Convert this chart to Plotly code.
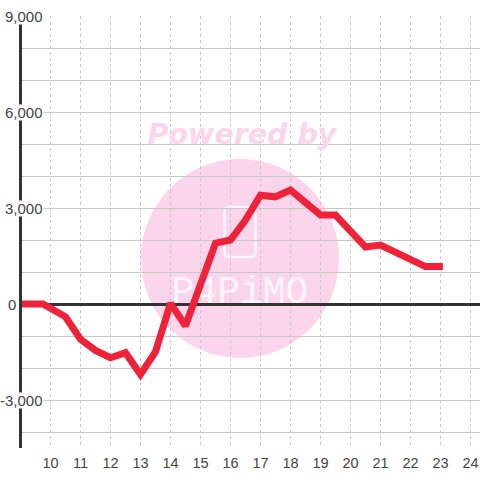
import plotly.graph_objects as go

hours = [8.9, 9.75, 10.5, 11, 11.5, 12, 12.5, 13, 13.5, 14, 14.5, 15, 15.5, 16, 16.5, 17,
         17.5, 18, 18.5, 19, 19.5, 20, 20.5, 21, 21.5, 22, 22.5, 23.08]
values = [0, 0, -400, -1100, -1450, -1680, -1520, -2200, -1490, 20, -680, 650, 1900, 2000, 2620, 3400,
          3350, 3560, 3200, 2780, 2780, 2300, 1780, 1840, 1620, 1370, 1170, 1170]
x_ticks = list(range(10, 25))
y_ticks = [9000, 6000, 3000, 0, -3000]
y_labels = ["9,000", "6,000", "3,000", "0", "-3,000"]

L, R, T, B = 22, 0, 16, 32
W = H = 480
PW, PH = W - L - R, H - T - B
XMIN, XMAX = 9.05, 9.05 + PW / 30
YMIN, YMAX = -4500, 9000
PINK = "#fbd5ec"
GRID = "#c8c8c8"
INK = "#444444"
LOGO = "#fff4fb"


def px(x):
    return (x - L) / PW


def py(y):
    return 1 - (y - T) / PH


def dx(x):
    return XMIN + (x - L) / 30


def dy(y):
    return YMAX - (y - T) / 32 * 1000


def rounded(x0, y0, x1, y1, r):
    pts = [("M", x0 + r, y0), ("L", x1 - r, y0), ("Q", x1, y0, x1, y0 + r), ("L", x1, y1 - r),
           ("Q", x1, y1, x1 - r, y1), ("L", x0 + r, y1), ("Q", x0, y1, x0, y1 - r), ("L", x0, y0 + r),
           ("Q", x0, y0, x0 + r, y0)]
    out = []
    for p in pts:
        coords = p[1:]
        parts = [f"{px(coords[i]):.5f},{py(coords[i + 1]):.5f}" for i in range(0, len(coords), 2)]
        out.append(p[0] + " ".join(parts))
    return " ".join(out) + " Z"


fig = go.Figure()
fig.add_trace(go.Scatter(x=[dx(242)], y=[dy(137)], mode="text", text=["Powered by"],
                         textfont=dict(family="DejaVu Sans", size=28.5, color=PINK, weight="bold", style="italic"),
                         hoverinfo="skip", showlegend=False, cliponaxis=False))
fig.add_trace(go.Scatter(x=[dx(240)], y=[dy(293)], mode="text", text=["P4PiMO"],
                         textfont=dict(family="Liberation Mono", size=38, color=LOGO),
                         hoverinfo="skip", showlegend=False, cliponaxis=False))
fig.add_trace(go.Scatter(x=hours, y=values, mode="lines",
                         line=dict(color="#ee2238", width=7, shape="linear"),
                         hoverinfo="skip", showlegend=False, cliponaxis=False))

shapes = [
    dict(type="circle", xref="paper", yref="paper", layer="below",
         x0=px(141), x1=px(339), y0=py(358), y1=py(159), fillcolor=PINK, line=dict(width=0)),
    dict(type="path", xref="paper", yref="paper", layer="below",
         path=rounded(224.5, 207, 255.5, 257, 5), line=dict(color=LOGO, width=2.5)),
]
annotations = []
for v, t in zip(y_ticks, y_labels):
    right = 17 if v == 0 else 44
    annotations.append(dict(xref="paper", yref="y", x=px(right), y=v, xanchor="right", yanchor="middle",
                            text=t, showarrow=False, font=dict(family="Liberation Sans", size=15, color=INK),
                            bgcolor="#ffffff", borderpad=0, height=15))

fig.update_layout(
    width=W, height=H, margin=dict(l=L, r=R, t=T, b=B, pad=0),
    paper_bgcolor="#ffffff", plot_bgcolor="rgba(0,0,0,0)",
    shapes=shapes, annotations=annotations, showlegend=False,
    xaxis=dict(range=[XMIN, XMAX], tickmode="array", tickvals=x_ticks, ticktext=[str(v) for v in x_ticks],
               showgrid=True, gridcolor=GRID, gridwidth=1, griddash="3px,3px", zeroline=False,
               showline=False, ticks="", tickfont=dict(family="Liberation Sans", size=14.5, color=INK), ticklabelstandoff=4),
    yaxis=dict(range=[YMIN, YMAX], tick0=0, dtick=1000, showgrid=True, gridcolor=GRID, gridwidth=1,
               zeroline=True, zerolinecolor="#333333", zerolinewidth=3,
               showline=True, linecolor="#333333", linewidth=3, ticks="", showticklabels=False),
)
fig.write_html("out.html", config=dict(displayModeBar=False),
               post_script="document.body.style.margin='0';")
